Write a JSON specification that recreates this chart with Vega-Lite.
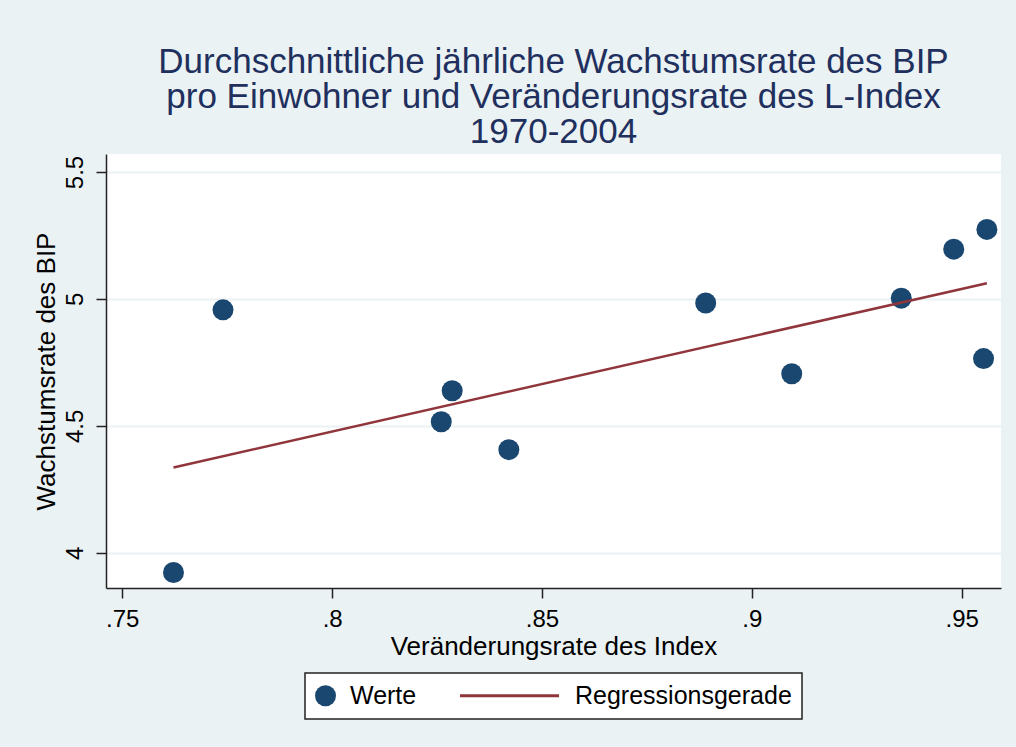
{
  "$schema": "https://vega.github.io/schema/vega-lite/v6.json",
  "autosize": {"type": "none"},
  "width": 895,
  "height": 434,
  "padding": {"left": 106, "top": 154, "right": 15, "bottom": 159},
  "background": "#eaf2f3",
  "title": {
    "text": ["Durchschnittliche jährliche Wachstumsrate des BIP", "pro Einwohner und Veränderungsrate des L-Index", "1970-2004"],
    "anchor": "middle",
    "frame": "group",
    "font": "Liberation Sans",
    "fontSize": 35,
    "fontWeight": "normal",
    "color": "#1f2f5e",
    "lineHeight": 35,
    "offset": 4
  },
  "datasets": {
    "pts": [
      {"x": 0.7622, "y": 3.922, "series": "Werte"},
      {"x": 0.7740, "y": 4.957, "series": "Werte"},
      {"x": 0.8260, "y": 4.516, "series": "Werte"},
      {"x": 0.8286, "y": 4.638, "series": "Werte"},
      {"x": 0.8421, "y": 4.406, "series": "Werte"},
      {"x": 0.8890, "y": 4.984, "series": "Werte"},
      {"x": 0.9095, "y": 4.705, "series": "Werte"},
      {"x": 0.9356, "y": 5.003, "series": "Werte"},
      {"x": 0.9481, "y": 5.196, "series": "Werte"},
      {"x": 0.9560, "y": 5.274, "series": "Werte"},
      {"x": 0.9552, "y": 4.765, "series": "Werte"}
    ],
    "fit": [
      {"x": 0.7622, "y": 4.336, "series": "Regressionsgerade"},
      {"x": 0.9560, "y": 5.062, "series": "Regressionsgerade"}
    ]
  },
  "encoding": {
    "x": {
      "field": "x", "type": "quantitative",
      "scale": {"domain": [0.74612, 0.95936], "nice": false, "zero": false},
      "axis": {
        "title": "Veränderungsrate des Index",
        "values": [0.75, 0.8, 0.85, 0.9, 0.95],
        "labelExpr": "replace(format(datum.value, '.2~f'), /^0/, '')",
        "grid": false
      }
    },
    "y": {
      "field": "y", "type": "quantitative",
      "scale": {"domain": [3.861, 5.571], "nice": false, "zero": false},
      "axis": {
        "title": "Wachstumsrate des BIP",
        "values": [4, 4.5, 5, 5.5],
        "labelExpr": "format(datum.value, '.1~f')",
        "labelAngle": -90,
        "labelAlign": "center",
        "labelBaseline": "bottom",
        "grid": true
      }
    },
    "color": {
      "field": "series", "type": "nominal",
      "scale": {"domain": ["Werte", "Regressionsgerade"], "range": ["#1a476f", "#90353b"]},
      "legend": {
        "title": null,
        "orient": "bottom",
        "direction": "horizontal",
        "encode": {
          "symbols": {
            "update": {
              "shape": {"signal": "datum.value === 'Werte' ? 'circle' : 'stroke'"},
              "size": {"signal": "datum.value === 'Werte' ? 441 : 9801"},
              "x": {"signal": "datum.value === 'Werte' ? 10.5 : 49.5"},
              "fill": {"signal": "datum.value === 'Werte' ? '#1a476f' : 'transparent'"},
              "stroke": {"signal": "datum.value === 'Werte' ? '#1a476f' : '#90353b'"},
              "strokeWidth": {"signal": "datum.value === 'Werte' ? 0 : 3"},
              "opacity": {"value": 1}
            }
          },
          "labels": {
            "update": {
              "x": {"signal": "datum.value === 'Werte' ? 35 : 115"}
            }
          }
        }
      }
    }
  },
  "layer": [
    {
      "data": {"name": "pts"},
      "mark": {"type": "circle", "size": 441, "opacity": 1}
    },
    {
      "data": {"name": "fit"},
      "mark": {"type": "line", "strokeWidth": 2.5}
    }
  ],
  "config": {
    "view": {"fill": "white", "stroke": null},
    "font": "Liberation Sans",
    "axis": {
      "domainColor": "#222",
      "domainWidth": 1.5,
      "tickColor": "#222",
      "tickWidth": 1.5,
      "tickSize": 10,
      "labelFont": "Liberation Sans",
      "labelFontSize": 24,
      "labelColor": "#000",
      "labelPadding": 9,
      "titleFont": "Liberation Sans",
      "titleFontSize": 26,
      "titleFontWeight": "normal",
      "titleColor": "#000",
      "gridColor": "#eaf2f3",
      "gridWidth": 2,
      "gridOpacity": 1
    },
    "axisX": {"titlePadding": 2},
    "axisY": {"titlePadding": 4},
    "legend": {
      "labelFont": "Liberation Sans",
      "labelFontSize": 25,
      "labelColor": "#000",
      "labelLimit": 0,
      "fillColor": "white",
      "strokeColor": "#222",
      "strokeWidth": 1.5,
      "padding": 10,
      "offset": 14,
      "columnPadding": 37,
      "symbolSize": 441,
      "layout": {"bottom": {"anchor": "middle"}}
    }
  }
}
